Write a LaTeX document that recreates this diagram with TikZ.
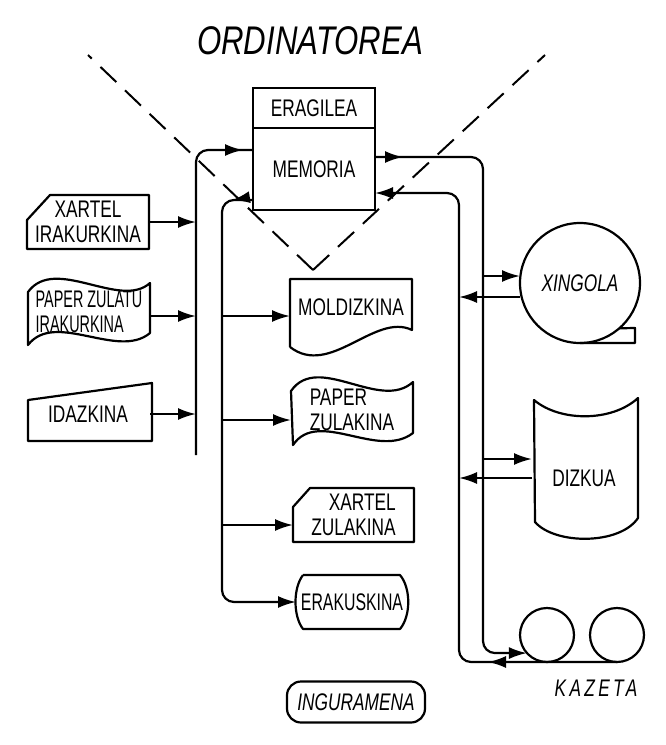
\documentclass[tikz,border=0pt]{standalone}
\usepackage{fontspec}
\setsansfont{Liberation Sans}[FakeStretch=0.72]
\newfontfamily\titlefont{Liberation Sans}[FakeStretch=0.78]
\usetikzlibrary{arrows.meta,calc,decorations.markings}
\tikzset{
  unit/.style={draw, line width=1.1pt, inner sep=0pt, outer sep=0pt},
  dev/.style={inner sep=0pt, outer sep=0pt, align=center},
  outline/.style={line width=1.1pt, line join=round},
  flow/.style={-{Latex[length=9pt,width=6pt]}, line width=1.1pt},
  bus/.style={line width=1.1pt, rounded corners=6pt},
  midarr/.style={postaction={decorate}, decoration={markings,
      mark=at position #1 with {\arrow{Latex[length=9pt,width=6pt]}}}},
  funnel/.style={line width=1pt, dash pattern=on 11pt off 6pt},
  narrow/.style={font=\sffamily\addfontfeature{FakeStretch=#1}\fontsize{12}{12.5}\selectfont},
  slant/.style={font=\sffamily\itshape\fontsize{12}{12.5}\selectfont},
  every node/.style={font=\sffamily\fontsize{12}{12.5}\selectfont}
}

\begin{document}
\begin{tikzpicture}[x=0.5pt,y=0.5pt]
\useasboundingbox (0,0) rectangle (665,-745);

% computer
\node[font=\titlefont\itshape\fontsize{20}{20}\selectfont] (title) at (310,-41) {ORDINATOREA};
\node[unit, minimum width=61pt, minimum height=20pt] (eragile) at (314,-108) {ERAGILEA};
\node[unit, minimum width=61pt, minimum height=41pt, anchor=north] (memoria) at (eragile.south) {MEMORIA};

% dashed funnel
\coordinate (fl) at (88,-55);
\coordinate (fr) at (545,-55);
\coordinate (fb) at (313,-270);
\draw[funnel] (fb) -- (fl);
\draw[funnel] (fb) -- (fr);

% input units
\node[dev, minimum width=61pt, minimum height=27pt] (xi) at (88,-222) {XARTEL\\IRAKURKINA};
\draw[outline] (27,-220) -- (50,-195) -- (149,-195) -- (149,-249) -- (27,-249) -- cycle;

\node[dev, narrow=0.6, minimum width=61pt, minimum height=33.5pt, align=left] (pz) at (89,-312) {PAPER ZULATU\\IRAKURKINA};
\draw[outline] (28,-292) .. controls (55,-255) and (120,-310) .. (150,-283) -- (150,-333)
  .. controls (118,-360) and (55,-310) .. (28,-345) -- cycle;

\node[dev, minimum width=62pt, minimum height=29pt] (idz) at (88,-414) {IDAZKINA};
\draw[outline] (28,-400) -- (152,-383) -- (152,-441) -- (28,-441) -- cycle;

% input bus
\coordinate (inbus) at (196,-150);
\coordinate (inend) at (196,-455);
\coordinate (memin) at ([yshift=9.5pt]memoria.west);
\coordinate (pzo) at ([yshift=-2pt]pz.east);
\draw[bus, midarr=-5pt] (inend) -- (inbus) -- (memin);
\draw[flow] (xi.east) -- (inbus |- xi.east);
\draw[flow] (pzo) -- (inbus |- pzo);
\draw[flow] (idz.east) -- (inbus |- idz.east);

% output units
\node[dev, minimum width=61pt, minimum height=28pt] (moldiz) at (351,-307) {MOLDIZKINA};
\draw[outline] (290,-347) -- (290,-279) -- (412,-279) -- (412,-330)
  .. controls (375,-312) and (330,-378) .. (290,-347);

\node[dev, minimum width=61pt, minimum height=30pt, align=left] (pzk) at (352,-410) {PAPER\\ZULAKINA};
\draw[outline] (291,-391) .. controls (318,-352) and (380,-412) .. (413,-382) -- (413,-433)
  .. controls (378,-460) and (318,-408) .. (293,-445) -- cycle;

\node[dev, minimum width=60.5pt, minimum height=27pt, align=right] (xzk) at (353.5,-515) {XARTEL\\ZULAKINA};
\draw[outline] (293,-507) -- (310,-488) -- (414,-488) -- (414,-542) -- (293,-542) -- cycle;

\node[dev, narrow=0.66, minimum width=56pt, minimum height=27pt] (era) at (352,-602) {ERAKUSKINA};
\draw[outline] (303,-575) -- (400,-575) .. controls (411,-588) and (411,-616) .. (400,-629)
  -- (303,-629) .. controls (293,-616) and (293,-588) .. (303,-575);

\node[unit, slant, rounded corners=7pt, minimum width=69pt, minimum height=20.5pt] (ing) at (356,-702) {INGURAMENA};

% output bus
\coordinate (memout) at ([yshift=-15.5pt]memoria.west);
\coordinate (outbus) at (222,-200);
\coordinate (moldin) at ([yshift=-4.5pt]moldiz.west);
\coordinate (pzkin) at ([yshift=-5pt]pzk.west);
\coordinate (xzkin) at ([yshift=-5pt]xzk.west);
\draw[bus, flow, midarr=10.5pt] (memout) -- (outbus) -- (outbus |- era.west) -- (era.west);
\draw[flow] (outbus |- moldin) -- (moldin);
\draw[flow] (outbus |- pzkin) -- (pzkin);
\draw[flow] (outbus |- xzkin) -- (xzkin);

% storage units
\node[unit, slant, circle, minimum size=60pt] (xing) at (580,-283) {XINGOLA};
\draw[outline] (xing.south) -- ++(55,0) -- ++(0,15) -- (xing.-49);

\node[dev, minimum width=52pt, minimum height=60pt] (diz) at (584,-478) {DIZKUA};
\draw[outline] (534,-400) .. controls (560,-422) and (612,-422) .. (638,-398) -- (638,-518)
  .. controls (620,-545) and (555,-545) .. (535,-522) -- cycle;

\node[unit, circle, minimum size=27pt] (k1) at (547,-635) {};
\node[unit, circle, minimum size=27pt] (k2) at (617,-635) {};
\node[font=\sffamily\itshape\addfontfeature{LetterSpace=14}\fontsize{12}{12.5}\selectfont] (kaz) at (596,-688) {KAZETA};

% storage buses
\coordinate (memtx) at ([yshift=6pt]memoria.east);
\coordinate (memrx) at ([yshift=-12pt]memoria.east);
\coordinate (txbus) at (483,-157);
\coordinate (rxbus) at (459,-193);
\coordinate (xin) at ([yshift=3.5pt]xing.west);
\coordinate (xout) at ([yshift=-7pt]xing.west);
\coordinate (din) at ([yshift=9.5pt]diz.west);
\draw[bus, flow, midarr=14pt] (memtx) -- (txbus) -- (txbus |- k1.222) -- (k1.222);
\draw[bus, flow, midarr=64.5pt] (k2.south) -- (rxbus |- k2.south) -- (rxbus) -- (memrx);
\draw[flow] (txbus |- xin) -- (xin);
\draw[flow] (xout) -- (rxbus |- xout);
\draw[flow] (txbus |- din) -- (din);
\draw[flow] (diz.west) -- (rxbus |- diz.west);
\end{tikzpicture}
\end{document}
